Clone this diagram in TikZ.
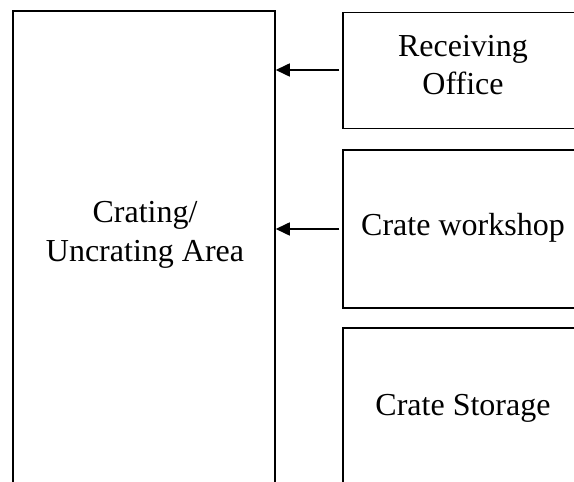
\documentclass[tikz,border=0pt]{standalone}
\usepackage{fontspec}
\setmainfont{Liberation Serif}
\usetikzlibrary{arrows.meta}
\begin{document}
\begin{tikzpicture}[x=1pt,y=1pt,
  box/.style={draw=black,line width=1.5pt,rectangle,inner sep=0pt},
  lbl/.style={font=\fontsize{32}{38.5}\selectfont,align=center,inner sep=0pt},
  arr/.style={line width=1.6pt,-{Triangle[length=14pt,width=13pt]}}]
\useasboundingbox (0,0) rectangle (574,482);
\clip (0,0) rectangle (574,482);
% big box (x 13-275, top 11 px, extends below)
\node[box,minimum width=262pt,minimum height=500pt] (crate) at (144,221) {};
\node[box,minimum width=260pt,minimum height=116pt] (recv) at (473,411.5) {};
\node[box,minimum width=260pt,minimum height=158pt] (work) at (473,253) {};
\node[box,minimum width=260pt,minimum height=200pt] (stor) at (473,54) {};
\node[lbl] (tcrate) at (145,247) {Crating/\\Uncrating Area};
\node[lbl] (trecv) at (463,417) {Receiving\\Office};
\node[lbl] (twork) at (463,254) {Crate workshop};
\node[lbl] (tstor) at (463,74) {Crate Storage};
\draw[arr] ([xshift=-3pt,yshift=0.5pt]recv.west) -- ([yshift=0.5pt]recv.west -| crate.east);
\draw[arr] ([xshift=-3pt]work.west) -- (work.west -| crate.east);
\end{tikzpicture}
\end{document}
